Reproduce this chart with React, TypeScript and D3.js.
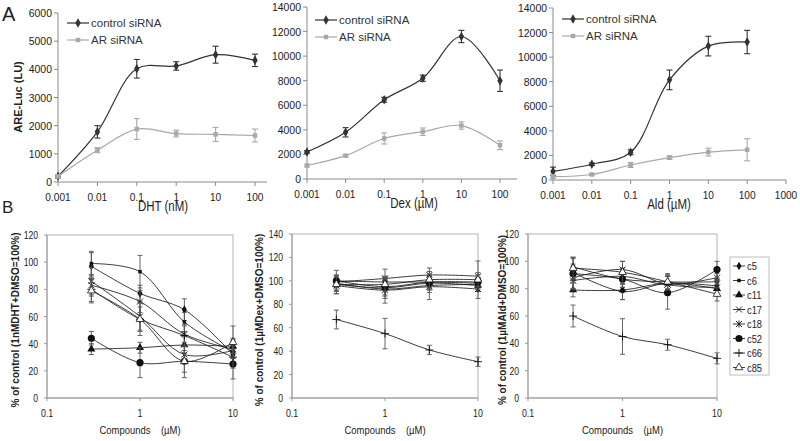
import React from 'react';
import * as d3 from 'd3';

// ---------- Panel A data ----------
const concA = [0.001, 0.01, 0.1, 1, 10, 100];
const ticksA12 = [0.001, 0.01, 0.1, 1, 10, 100];
const ticksA3 = [0.001, 0.01, 0.1, 1, 10, 100, 1000];
const seriesA = ['control siRNA', 'AR siRNA'];

const dhtControl = [200, 1780, 4020, 4120, 4520, 4320];
const dhtControlErr = [60, 220, 330, 150, 300, 220];
const dhtAR = [200, 1130, 1880, 1720, 1690, 1650];
const dhtARErr = [60, 90, 370, 120, 250, 230];

const dexControl = [2200, 3800, 6450, 8200, 11600, 8000];
const dexControlErr = [100, 380, 200, 250, 500, 870];
const dexAR = [1100, 1900, 3300, 3850, 4350, 2750];
const dexARErr = [100, 80, 450, 300, 300, 350];

const aldControl = [700, 1280, 2260, 8150, 10900, 11230];
const aldControlErr = [350, 100, 200, 800, 800, 950];
const aldAR = [270, 450, 1220, 1820, 2270, 2460];
const aldARErr = [150, 80, 200, 150, 320, 900];

// ---------- Panel B data ----------
const concB = [0.3, 1, 3, 10];
const ticksB = [0.1, 1, 10];
const compounds = ['c5', 'c6', 'c11', 'c17', 'c18', 'c52', 'c66', 'c85'];

const dhtB = [
  [97, 77, 65, 32],
  [99, 93, 56, 34],
  [36, 37, 39, 38],
  [83, 71, 47, 36],
  [86, 60, 32, 35],
  [44, 26, 27, 25],
  [80, 58, 46, 30],
  [79, 58, 27, 41],
];
const dhtBErr = [
  [10, 6, 8, 6],
  [9, 12, 7, 10],
  [4, 4, 6, 5],
  [8, 8, 6, 6],
  [10, 10, 6, 6],
  [5, 11, 12, 11],
  [9, 12, 8, 8],
  [9, 9, 8, 12],
];
const dexB = [
  [100, 99, 99, 98],
  [98, 93, 96, 97],
  [97, 94, 98, 96],
  [99, 102, 105, 104],
  [96, 92, 95, 93],
  [100, 95, 99, 99],
  [67, 55, 41, 31],
  [97, 97, 101, 101],
];
const dexBErr = [
  [5, 5, 5, 5],
  [6, 8, 6, 6],
  [5, 6, 6, 5],
  [5, 8, 6, 13],
  [7, 11, 11, 8],
  [9, 8, 6, 6],
  [8, 13, 4, 4],
  [8, 6, 7, 6],
];
const aldB = [
  [96, 87, 85, 85],
  [92, 78, 84, 82],
  [79, 79, 84, 80],
  [86, 89, 83, 88],
  [88, 94, 83, 81],
  [91, 87, 77, 94],
  [60, 45, 39, 29],
  [95, 92, 85, 76],
];
const aldBErr = [
  [6, 6, 5, 6],
  [6, 6, 5, 5],
  [5, 7, 5, 5],
  [6, 6, 6, 6],
  [8, 6, 7, 6],
  [12, 6, 12, 6],
  [8, 13, 4, 4],
  [8, 8, 6, 5],
];

const FONT = "'Liberation Sans', Arial, Helvetica, sans-serif";
const AXIS = '#8a8a8a';
const DARK = '#333333';
const LIGHT = '#a8a8a8';

type TProps = {
  x: number; y: number; children: React.ReactNode; sx?: number; anchor?: string;
  size?: number; weight?: string | number; fill?: string; rotate?: number; family?: string;
};
function T({ x, y, children, sx = 1, anchor = 'start', size = 11, weight = 'normal', fill = '#222', rotate = 0, family = FONT }: TProps) {
  return (
    <text
      transform={`translate(${x},${y}) rotate(${rotate}) scale(${sx},1)`}
      textAnchor={anchor as any}
      fontSize={size}
      fontWeight={weight as any}
      fill={fill}
      fontFamily={family}
      style={{ whiteSpace: 'pre' }}
    >
      {children}
    </text>
  );
}

const smooth = d3.curveCatmullRom.alpha(0.5);

function fmtTick(v: number) {
  if (v >= 1) return String(v);
  return String(+v.toFixed(3));
}

type PanelAProps = {
  xRange: [number, number]; xDomain: [number, number]; xTicks: number[]; axisEnd: number;
  yTop: number; yBottom: number; yMax: number; yStep: number;
  control: number[]; controlErr: number[]; ar: number[]; arErr: number[];
  legendX: number; legendY: number; title: string; titleX: number;
};

function PanelA(p: PanelAProps) {
  const x = d3.scaleLog().domain(p.xDomain).range(p.xRange);
  const y = d3.scaleLinear().domain([0, p.yMax]).range([p.yBottom, p.yTop]);
  const yTicks = d3.range(0, p.yMax + 1, p.yStep);
  const line = d3.line<number>().x((_, i) => x(concA[i])).y((d) => y(d)).curve(smooth);
  const diamond = d3.symbol(d3.symbolDiamond, 26)()!;
  const square = d3.symbol(d3.symbolSquare, 20)()!;
  const x0 = p.xRange[0];
  const series = [
    { name: seriesA[0], vals: p.control, err: p.controlErr, color: DARK, mark: diamond },
    { name: seriesA[1], vals: p.ar, err: p.arErr, color: LIGHT, mark: square },
  ];
  return (
    <g>
      <line x1={x0} x2={x0} y1={p.yBottom} y2={p.yTop} stroke={AXIS} />
      <line x1={x0} x2={p.axisEnd} y1={p.yBottom} y2={p.yBottom} stroke={AXIS} />
      {yTicks.map((v) => (
        <g key={v}>
          <line x1={x0 - 4} x2={x0} y1={y(v)} y2={y(v)} stroke={AXIS} />
          <T x={x0 - 6} y={y(v) + 4} anchor="end" size={11} sx={0.95}>{v}</T>
        </g>
      ))}
      {p.xTicks.map((v) => (
        <g key={v}>
          <line x1={x(v)} x2={x(v)} y1={p.yBottom} y2={p.yBottom + 4} stroke={AXIS} />
          <T x={x(v)} y={p.yBottom + 19} anchor="middle" size={11} sx={0.92}>{fmtTick(v)}</T>
        </g>
      ))}
      <T x={p.titleX} y={p.yBottom + 29} anchor="middle" size={14} sx={0.82}>{p.title}</T>
      {series.map((s) => (
        <g key={s.name}>
          <path d={line(s.vals)!} fill="none" stroke={s.color} strokeWidth={1.2} />
          {s.vals.map((v, i) => {
            const cx = x(concA[i]);
            const lo = y(v - s.err[i]);
            const hi = y(v + s.err[i]);
            return (
              <g key={i}>
                <line x1={cx} x2={cx} y1={lo} y2={hi} stroke={s.color} strokeWidth={1.1} />
                <line x1={cx - 3} x2={cx + 3} y1={lo} y2={lo} stroke={s.color} strokeWidth={1.1} />
                <line x1={cx - 3} x2={cx + 3} y1={hi} y2={hi} stroke={s.color} strokeWidth={1.1} />
                <path d={s.mark} transform={`translate(${cx},${y(v)})`} fill={s.color} />
              </g>
            );
          })}
        </g>
      ))}
      {series.map((s, i) => {
        const ly = p.legendY + i * 17;
        return (
          <g key={'lg' + s.name}>
            <line x1={p.legendX} x2={p.legendX + 22} y1={ly} y2={ly} stroke={s.color} strokeWidth={1.2} />
            <path d={s.mark} transform={`translate(${p.legendX + 11},${ly})`} fill={s.color} />
            <T x={p.legendX + 24} y={ly + 4} size={11.5} fill="#333">{s.name}</T>
          </g>
        );
      })}
    </g>
  );
}

function Marker({ idx, cx, cy }: { idx: number; cx: number; cy: number }) {
  const c = '#111';
  switch (compounds[idx]) {
    case 'c5':
      return <path d={d3.symbol(d3.symbolDiamond, 22)()!} transform={`translate(${cx},${cy})`} fill={c} />;
    case 'c6':
      return <path d={d3.symbol(d3.symbolSquare, 12)()!} transform={`translate(${cx},${cy})`} fill={c} />;
    case 'c11':
      return <path d={d3.symbol(d3.symbolTriangle, 28)()!} transform={`translate(${cx},${cy})`} fill={c} />;
    case 'c17':
      return <path d={`M${cx - 3},${cy - 3}L${cx + 3},${cy + 3}M${cx - 3},${cy + 3}L${cx + 3},${cy - 3}`} stroke={c} strokeWidth={0.9} fill="none" />;
    case 'c18':
      return <path d={`M${cx - 3},${cy - 3}L${cx + 3},${cy + 3}M${cx - 3},${cy + 3}L${cx + 3},${cy - 3}M${cx},${cy - 3.5}L${cx},${cy + 3.5}`} stroke={c} strokeWidth={0.9} fill="none" />;
    case 'c52':
      return <circle cx={cx} cy={cy} r={3.6} fill={c} />;
    case 'c66':
      return <path d={`M${cx - 4},${cy}L${cx + 4},${cy}M${cx},${cy - 4}L${cx},${cy + 4}`} stroke={c} strokeWidth={0.9} fill="none" />;
    case 'c85':
    default:
      return <path d={d3.symbol(d3.symbolTriangle, 26)()!} transform={`translate(${cx},${cy})`} fill="#fff" stroke={c} strokeWidth={0.8} />;
  }
}

type PanelBProps = {
  left: number; right: number; top: number; bottom: number; yMax: number;
  vals: number[][]; errs: number[][]; ylabel: string; ylabelX: number;
};

function PanelB(p: PanelBProps) {
  const x = d3.scaleLog().domain([0.1, 10]).range([p.left, p.right]);
  const y = d3.scaleLinear().domain([0, p.yMax]).range([p.bottom, p.top]);
  const yTicks = d3.range(0, p.yMax + 1, 20);
  const line = d3.line<number>().x((_, i) => x(concB[i])).y((d) => y(d)).curve(smooth);
  return (
    <g>
      <rect x={p.left} y={p.top} width={p.right - p.left} height={p.bottom - p.top} fill="none" stroke="#b5b5b5" strokeWidth={1} />
      <line x1={p.left} x2={p.left} y1={p.top} y2={p.bottom} stroke="#9a9a9a" />
      <line x1={p.left} x2={p.right} y1={p.bottom} y2={p.bottom} stroke="#9a9a9a" />
      {yTicks.map((v) => (
        <g key={v}>
          <line x1={p.left - 3} x2={p.left} y1={y(v)} y2={y(v)} stroke="#9a9a9a" />
          <T x={p.left - 9} y={y(v) + 4} anchor="end" size={11} sx={0.78}>{v}</T>
        </g>
      ))}
      {ticksB.map((v) => (
        <g key={v}>
          <line x1={x(v)} x2={x(v)} y1={p.bottom} y2={p.bottom + 3} stroke="#9a9a9a" />
          <T x={x(v)} y={p.bottom + 19} anchor="middle" size={11} sx={0.8}>{String(v)}</T>
        </g>
      ))}
      <T x={(p.left + p.right) / 2} y={p.bottom + 36} anchor="middle" size={11} sx={0.86}>
        {'Compounds    (\u00b5M)'}
      </T>
      <T x={p.ylabelX} y={320} anchor="middle" size={10} weight="bold" rotate={-90}>{p.ylabel}</T>
      {p.vals.map((vals, si) => (
        <g key={si}>
          <path d={line(vals)!} fill="none" stroke="#1a1a1a" strokeWidth={0.85} />
          {vals.map((v, i) => {
            const cx = x(concB[i]);
            const lo = y(v - p.errs[si][i]);
            const hi = y(v + p.errs[si][i]);
            return (
              <g key={i}>
                <line x1={cx} x2={cx} y1={lo} y2={hi} stroke="#555" strokeWidth={0.9} />
                <line x1={cx - 2.5} x2={cx + 2.5} y1={lo} y2={lo} stroke="#555" strokeWidth={0.9} />
                <line x1={cx - 2.5} x2={cx + 2.5} y1={hi} y2={hi} stroke="#555" strokeWidth={0.9} />
                <Marker idx={si} cx={cx} cy={y(v)} />
              </g>
            );
          })}
        </g>
      ))}
    </g>
  );
}

function LegendB() {
  const x0 = 730;
  const y0 = 257;
  return (
    <g>
      <rect x={x0} y={y0} width={39} height={118} fill="#fff" stroke="#bdbdbd" />
      {compounds.map((c, i) => {
        const ly = y0 + 9 + i * 14.5;
        return (
          <g key={c}>
            <line x1={x0 + 3} x2={x0 + 15} y1={ly} y2={ly} stroke="#1a1a1a" strokeWidth={0.85} />
            <Marker idx={i} cx={x0 + 9} cy={ly} />
            <T x={x0 + 17} y={ly + 4} size={11} sx={0.85}>{c}</T>
          </g>
        );
      })}
    </g>
  );
}

export default function App() {
  return (
    <svg width={800} height={441} style={{ position: 'absolute', left: 0, top: 0, background: '#fff' }}>
      <rect width={800} height={441} fill="#fff" />
      <T x={2} y={21} size={20}>A</T>
      <T x={2} y={213} size={17}>B</T>
      <T x={22} y={97} anchor="middle" size={11} weight="bold" rotate={-90}>ARE-Luc (LU)</T>
      <PanelA
        xRange={[58, 255]} xDomain={[0.001, 100]} xTicks={ticksA12} axisEnd={267}
        yTop={13} yBottom={182} yMax={6000} yStep={1000}
        control={dhtControl} controlErr={dhtControlErr} ar={dhtAR} arErr={dhtARErr}
        legendX={67} legendY={23} title="DHT (nM)" titleX={163}
      />
      <PanelA
        xRange={[307, 500]} xDomain={[0.001, 100]} xTicks={ticksA12} axisEnd={517}
        yTop={7} yBottom={179} yMax={14000} yStep={2000}
        control={dexControl} controlErr={dexControlErr} ar={dexAR} arErr={dexARErr}
        legendX={315} legendY={20} title={'Dex (\u00b5M)'} titleX={414}
      />
      <PanelA
        xRange={[553, 786]} xDomain={[0.001, 1000]} xTicks={ticksA3} axisEnd={786}
        yTop={8} yBottom={180} yMax={14000} yStep={2000}
        control={aldControl} controlErr={aldControlErr} ar={aldAR} arErr={aldARErr}
        legendX={562} legendY={19} title={'Ald (\u00b5M)'} titleX={669}
      />
      <PanelB left={47} right={233} top={235} bottom={398} yMax={120} vals={dhtB} errs={dhtBErr}
        ylabel="% of control (1nMDHT+DMSO=100%)" ylabelX={19} />
      <PanelB left={292} right={478} top={234} bottom={398} yMax={140} vals={dexB} errs={dexBErr}
        ylabel={'% of control (1\u00b5MDex+DMSO=100%)'} ylabelX={263} />
      <PanelB left={528} right={717} top={234} bottom={398} yMax={120} vals={aldB} errs={aldBErr}
        ylabel={'% of control (1\u00b5MAld+DMSO=100%)'} ylabelX={506} />
      <LegendB />
    </svg>
  );
}
